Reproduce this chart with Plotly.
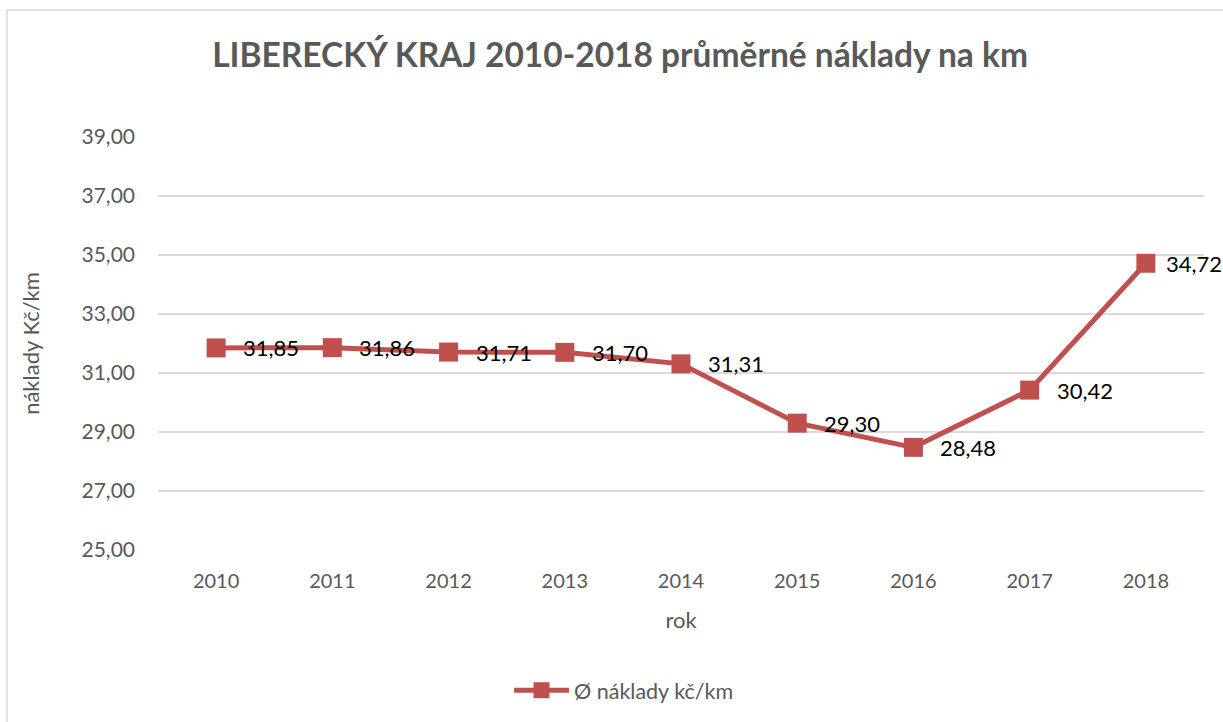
import plotly.graph_objects as go

years = ["2010", "2011", "2012", "2013", "2014", "2015", "2016", "2017", "2018"]
costs = [31.85, 31.86, 31.71, 31.70, 31.31, 29.30, 28.48, 30.42, 34.72]
y_ticks = [25, 27, 29, 31, 33, 35, 37, 39]
series_name = "Ø náklady kč/km"
title_text = "<b>LIBERECKÝ KRAJ 2010-2018 průměrné náklady na km</b>"

RED = "#C0504D"
GRAY = "#595959"
GRID = "#D9D9D9"
FONT = "Lato"

def fmt(v):
    return f"{v:.2f}".replace(".", ",")

fig = go.Figure()
fig.add_trace(go.Scatter(
    x=years, y=costs, mode="lines+markers", name=series_name,
    line=dict(color=RED, width=5),
    marker=dict(symbol="square", size=19, color=RED),
))

for i, v in enumerate(costs):
    shift = 18 if i == len(costs) - 1 else 25
    fig.add_annotation(x=i, y=v, text=fmt(v), showarrow=False,
                       xanchor="left", yanchor="middle", xshift=shift,
                       font=dict(family=FONT, size=22, color="black"))

fig.update_layout(
    width=1223, height=722,
    margin=dict(l=158, r=19, t=137, b=172),
    paper_bgcolor="white", plot_bgcolor="white",
    font=dict(family=FONT, color=GRAY),
    title=dict(text=title_text, x=0.507, xanchor="center", y=0.924, yanchor="middle",
               yref="container", font=dict(family=FONT, size=33.5, color=GRAY)),
    showlegend=True,
    legend=dict(orientation="h", x=0.4455, xanchor="center", y=0.044, yanchor="middle",
                yref="container", font=dict(family=FONT, size=21.5, color=GRAY),
                itemwidth=55),
    xaxis=dict(type="category", range=[-0.5, 8.5], showgrid=False, zeroline=False,
               showline=False, ticks="", ticklabelstandoff=17,
               tickfont=dict(family=FONT, size=20, color=GRAY),
               title=dict(text="rok", standoff=21, font=dict(family=FONT, size=22, color=GRAY))),
    yaxis=dict(range=[25, 39], tickvals=y_ticks, ticktext=[fmt(v) for v in y_ticks],
               showgrid=True, gridcolor=GRID, gridwidth=1.5, zeroline=False, showline=False,
               ticks="", ticklabelstandoff=22,
               tickfont=dict(family=FONT, size=21, color=GRAY),
               title=dict(text="náklady Kč/km", standoff=35, font=dict(family=FONT, size=22, color=GRAY))),
)

fig.add_shape(type="rect", xref="paper", yref="paper",
              x0=(7 - 158) / 1046, x1=1.2, y0=-0.6, y1=(550 - 10) / 413,
              line=dict(color=GRID, width=1.5), fillcolor="rgba(0,0,0,0)", layer="below")

fig.write_html("out.html", config={"displayModeBar": False},
               post_script="document.body.style.margin='0';document.body.style.overflow='hidden';")
